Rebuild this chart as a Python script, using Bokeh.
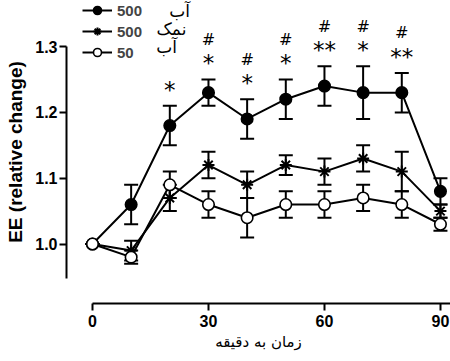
from bokeh.plotting import figure
from bokeh.models import (Range1d, ColumnDataSource, Whisker, TeeHead, Legend, LegendItem,
                          FixedTicker, PrintfTickFormatter, Label)
from bokeh.core.properties import value
from bokeh.embed import file_html
from bokeh.resources import INLINE

# ---------------- data ----------------
time_min = [0, 10, 20, 30, 40, 50, 60, 70, 80, 90]

water500 = [1.00, 1.06, 1.18, 1.23, 1.19, 1.22, 1.24, 1.23, 1.23, 1.08]
water500_sem = [0.0, 0.03, 0.03, 0.02, 0.03, 0.03, 0.03, 0.04, 0.03, 0.02]

salt500 = [1.00, 0.99, 1.07, 1.12, 1.09, 1.12, 1.11, 1.13, 1.11, 1.05]
salt500_sem = [0.0, 0.015, 0.02, 0.02, 0.02, 0.015, 0.02, 0.02, 0.03, 0.01]

water50 = [1.00, 0.98, 1.09, 1.06, 1.04, 1.06, 1.06, 1.07, 1.06, 1.03]
water50_sem = [0.0, 0.01, 0.02, 0.02, 0.03, 0.02, 0.02, 0.02, 0.02, 0.01]

stars = ["", "", "*", "*", "*", "*", "**", "*", "**", ""]
hashes = ["", "", "", "#", "#", "#", "#", "#", "#", ""]

legend_numbers = ["500", "500", "50"]
legend_words = ["آب", "نمک", "آب"]

y_ticks = [1.0, 1.1, 1.2, 1.3]
x_ticks = [0, 30, 60, 90]
x_title = "زمان به دقیقه"
y_title = "EE (relative change)"

# ---------------- figure ----------------
W, H = 450, 361
p = figure(width=W, height=H, output_backend="svg", toolbar_location=None,
           x_range=Range1d(-6.72, 92.6), y_range=Range1d(0.9096, 1.370),
           min_border_left=66, min_border_right=0, min_border_top=0, min_border_bottom=58)
p.outline_line_color = None
p.grid.visible = False
p.background_fill_color = "white"
p.border_fill_color = "white"

font = "Liberation Sans"

xa = p.xaxis[0]
xa.ticker = FixedTicker(ticks=x_ticks)
xa.bounds = (0, 92.6)
ya = p.yaxis[0]
ya.ticker = FixedTicker(ticks=y_ticks)
ya.bounds = (0.948, 1.3)
ya.formatter = PrintfTickFormatter(format="%.1f")

for ax in (xa, ya):
    ax.axis_line_width = 2
    ax.axis_line_color = "black"
    ax.major_tick_line_width = 2
    ax.major_tick_line_color = "black"
    ax.major_tick_out = 7
    ax.major_tick_in = 0
    ax.minor_tick_line_color = None
    ax.major_label_text_font = font
    ax.major_label_text_font_style = "bold"
    ax.major_label_text_font_size = "16px"
    ax.major_label_text_color = "black"
    ax.axis_label_text_color = "black"

xa.major_label_standoff = 4
xa.axis_label = x_title
xa.axis_label_text_font = "DejaVu Sans"
xa.axis_label_text_font_style = "normal"
xa.axis_label_text_font_size = "15px"
xa.axis_label_standoff = 3

ya.major_label_standoff = 2
ya.axis_label = y_title
ya.axis_label_text_font = font
ya.axis_label_text_font_style = "bold"
ya.axis_label_text_font_size = "19px"
ya.axis_label_standoff = 6

series = [
    (water500, water500_sem, "circle", "black"),
    (salt500, salt500_sem, "asterisk", "black"),
    (water50, water50_sem, "circle", "white"),
]

items = []
for (vals, sem, marker, fill), num in zip(series, legend_numbers):
    lower = [v - s for v, s in zip(vals, sem)]
    upper = [v + s for v, s in zip(vals, sem)]
    src = ColumnDataSource(dict(x=time_min, y=vals, lower=lower, upper=upper))
    wh = Whisker(base="x", lower="lower", upper="upper", source=src,
                 line_width=2, line_color="black", level="underlay",
                 upper_head=TeeHead(size=14, line_width=2, line_color="black"),
                 lower_head=TeeHead(size=14, line_width=2, line_color="black"))
    p.add_layout(wh)
    ln = p.line("x", "y", source=src, line_width=2, line_color="black")
    if marker == "asterisk":
        sc = p.scatter("x", "y", source=src, marker="asterisk", size=12,
                       line_color="black", line_width=2)
    else:
        sc = p.scatter("x", "y", source=src, marker="circle", size=11.5,
                       fill_color=fill, line_color="black", line_width=1.6)
    items.append(LegendItem(label=num, renderers=[ln, sc]))

# significance marks above the 500 water series
top = [v + s for v, s in zip(water500, water500_sem)]
sig_src = ColumnDataSource(dict(x=time_min, y=top, stars=stars, hashes=hashes))
p.text("x", "y", text="stars", source=sig_src, text_align="center",
       text_baseline="middle", y_offset=-16, text_font=value("DejaVu Sans"),
       text_font_size="23px", text_color="black")
p.text("x", "y", text="hashes", source=sig_src, text_align="center",
       text_baseline="middle", y_offset=-40, text_font=value("DejaVu Sans"),
       text_font_size="16px", text_color="black")

legend = Legend(items=items, location=(16, 241), padding=0, margin=0, spacing=1,
                glyph_width=30, glyph_height=20, label_height=20, label_standoff=5,
                label_text_font=font, label_text_font_style="bold",
                label_text_font_size="15px", border_line_color=None,
                background_fill_alpha=0)
p.add_layout(legend)

word_x = [113, 105, 100]
word_y = [293, 275, 257]
for wx, wy, word in zip(word_x, word_y, legend_words):
    p.add_layout(Label(x=wx, y=wy, x_units="screen", y_units="screen", text=word,
                       text_font="DejaVu Sans", text_font_size="17px",
                       text_align="center", text_baseline="middle", text_color="black"))

open("out.html", "w").write(file_html(p, INLINE))
